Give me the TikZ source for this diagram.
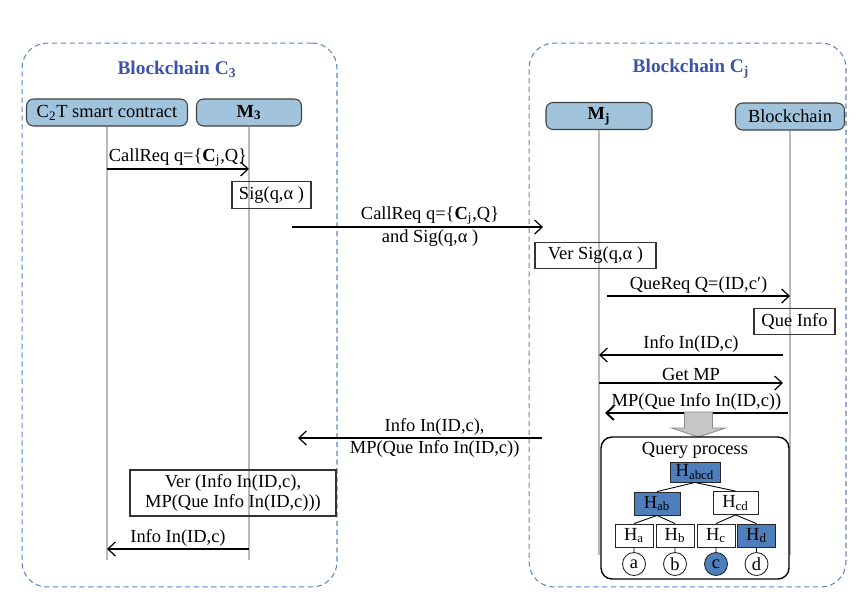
\documentclass[tikz,border=0pt]{standalone}
\usepackage{fontspec}
\setmainfont{Liberation Serif}
\usetikzlibrary{arrows.meta, positioning, calc}
\definecolor{bcDash}{HTML}{5B87C9}
\definecolor{bcTitle}{HTML}{3D54A6}
\definecolor{bcHead}{HTML}{A1C3DC}
\definecolor{bcLife}{HTML}{BEB9B5}
\definecolor{bcHash}{HTML}{4F7EBD}
\definecolor{bcGray}{HTML}{C6C6C6}
\tikzset{
  bcchain/.style={draw=bcDash, dash pattern=on 3pt off 2pt, line width=0.6pt,
                  rounded corners=0.5cm, minimum width=6.3cm, minimum height=10.88cm},
  bctitle/.style={text=bcTitle, font=\fontsize{11}{13}\selectfont\bfseries},
  bchead/.style={rectangle, rounded corners=4pt, draw=black!75, fill=bcHead, line width=0.6pt,
                 minimum height=0.54cm, inner sep=0pt},
  bclife/.style={draw=bcLife, line width=0.9pt},
  bcact/.style={rectangle, draw=black!80, line width=0.6pt, minimum height=0.53cm,
                inner sep=1pt, align=center},
  bcmsg/.style={-{Straight Barb[length=1.5mm, width=2.8mm]}, line width=0.7pt},
  bclbl/.style={inner sep=1pt},
  bchash/.style={rectangle, draw=black!85, fill=white, line width=0.5pt, minimum height=0.46cm,
                 minimum width=0.76cm, inner sep=0pt},
  bcleaf/.style={circle, draw=black!85, fill=white, line width=0.5pt, minimum size=0.46cm, inner sep=0pt},
  bcfill/.style={fill=bcHash},
}

\begin{document}
\begin{tikzpicture}[x=0.02cm, y=-0.02cm, font=\fontsize{10.5}{12.5}\selectfont]
  \useasboundingbox (0,0) rectangle (865,603);
  % the two chains
  \node[bcchain] (ch3) at (179.5,315) {};
  \node[bcchain, minimum width=6.34cm] (chj) at (687.5,315) {};
  \node[bctitle] (t3) at (177,69) {Blockchain C\textsubscript{3}};
  \node[bctitle] (tj) at (691,69) {Blockchain C\textsubscript{j}};

  % lifelines
  \node[bchead, minimum width=3.22cm] (c2t) at (107,112.5) {C\textsubscript{2}T smart contract};
  \node[bchead, minimum width=2.1cm] (m3) at (249,112.5) {\textbf{M\textsubscript{3}}};
  \node[bchead, minimum width=2.12cm] (mj) at (599,116) {\textbf{M\textsubscript{j}}};
  \node[bchead, minimum width=2.18cm] (bc) at (790,116.5) {Blockchain};
  \foreach \n/\e in {c2t/560, m3/560, mj/555, bc/555}
    \draw[bclife] (\n.south) -- (\n.south |- 0,\e);

  % free message ends
  \foreach \n/\x/\y in {s2/292/227, e2/543/227, s3/607/296, s4/783/355, e5/783/383,
                        s6/788/413, e6/605/413, s7/542/438, e7/298/438}
    \coordinate (\n) at (\x,\y);

  \draw[bcmsg] (c2t |- 0,169) -- node[above, bclbl] (l1) {CallReq q=\{\textbf{C}\textsubscript{j},Q\}} (m3 |- 0,169);
  \node[bcact, minimum width=1.58cm] (sig) at (271.5,195) {Sig(q,α )};
  \draw[bcmsg] (s2) -- node[pos=0.55, above, bclbl] (l2a) {CallReq q=\{\textbf{C}\textsubscript{j},Q\}}
                        node[pos=0.55, below, bclbl] (l2b) {and Sig(q,α )} (e2);
  \node[bcact, minimum width=2.42cm] (versig) at (595.5,255.5) {Ver Sig(q,α )};
  \draw[bcmsg] (s3) -- node[above, bclbl] (l3) {QueReq Q=(ID,c′)} (bc |- s3);
  \node[bcact, minimum width=1.62cm] (qinfo) at (794.5,321.5) {Que Info};
  \draw[bcmsg] (s4) -- node[above, bclbl] (l4) {Info In(ID,c)} (mj |- s4);
  \draw[bcmsg] (mj |- e5) -- node[above, bclbl] (l5) {Get MP} (e5);
  \draw[bcmsg, line width=1.1pt] (s6) -- node[above, bclbl] (l6) {MP(Que Info In(ID,c))} (e6);
  \draw[bcmsg] (s7) -- node[pos=0.44, above, bclbl] (l7a) {Info In(ID,c),}
                        node[pos=0.44, below, bclbl] (l7b) {MP(Que Info In(ID,c))} (e7);
  \node[bcact, minimum width=4.12cm, minimum height=0.92cm, font=\fontsize{10.5}{11.5}\selectfont]
    (ver) at (233,493) {Ver (Info In(ID,c),\\MP(Que Info In(ID,c)))};
  \draw[bcmsg] (m3 |- 0,549) -- node[above, bclbl] (l8) {Info In(ID,c)} (c2t |- 0,549);

  % query process with the Merkle tree
  \coordinate (dn) at (698.5,412);
  \draw[draw=black!45, fill=bcGray, line width=0.5pt]
    (dn) ++(-14,0) -- ++(28,0) -- ++(0,16) -- ++(13,0) -- ++(-27,9) -- ++(-27,-9) -- ++(13,0) -- cycle;
  \node[rectangle, draw, fill=white, rounded corners=0.22cm, line width=0.8pt,
        minimum width=3.76cm, minimum height=2.84cm] (qp) at (695,508) {};
  \node (qpt) at (695,450) {Query process};
  \node[bchash, bcfill, minimum width=1cm, minimum height=0.4cm] (habcd) at (695,472) {H\textsubscript{abcd}};
  \node[bchash, bcfill, minimum width=0.92cm] (hab) at (657,503.5) {H\textsubscript{ab}};
  \node[bchash, minimum width=0.9cm] (hcd) at (735.5,503) {H\textsubscript{cd}};
  \node[bchash] (ha) at (634,535.5) {H\textsubscript{a}};
  \node[bchash] (hb) at (675,535.5) {H\textsubscript{b}};
  \node[bchash] (hc) at (716,535.5) {H\textsubscript{c}};
  \node[bchash, bcfill] (hd) at (756.5,535.5) {H\textsubscript{d}};
  \node[bcleaf] (la) at (634,564) {a};
  \node[bcleaf] (lb) at (675,564) {b};
  \node[bcleaf, bcfill] (lc) at (716,564) {c};
  \node[bcleaf] (ld) at (756.5,564) {d};
  \draw[line width=0.5pt] (habcd.south) -- (hab.north) (habcd.south) -- (hcd.north)
    (hab.south) -- (ha.north) (hab.south) -- (hb.north)
    (hcd.south) -- (hc.north) (hcd.south) -- (hd.north)
    (ha) -- (la) (hb) -- (lb) (hc) -- (lc) (hd) -- (ld);
\end{tikzpicture}
\end{document}
